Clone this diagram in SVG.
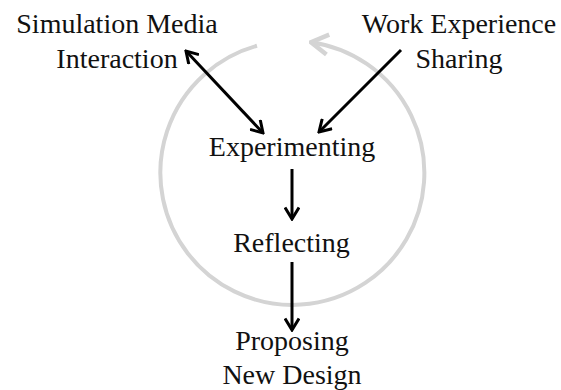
<svg xmlns="http://www.w3.org/2000/svg" width="561" height="390" viewBox="0 0 561 390">
<style>
text{font-family:"Liberation Serif","Times New Roman",serif;font-size:28px;fill:#111;text-anchor:middle}
.ln{stroke:#000;stroke-width:3;fill:none}
.cyc{stroke:#d4d4d4;stroke-width:4;fill:none}
</style>
<defs>
<marker id="ah" viewBox="0 0 16 16" refX="14" refY="8" markerWidth="16" markerHeight="16" markerUnits="userSpaceOnUse" orient="auto-start-reverse">
<path d="M2.5,1 L14,8 L2.5,15" fill="none" stroke="#000" stroke-width="3"/>
</marker>
<marker id="gh" viewBox="0 0 22 26" refX="20" refY="13" markerWidth="22" markerHeight="26" markerUnits="userSpaceOnUse" orient="auto">
<path d="M3,3 L20,13 L3,23" fill="none" stroke="#d4d4d4" stroke-width="4.5"/>
</marker>
</defs>
<g id="cycle">
<path class="cyc" d="M257,45.7 A132,132 0 1 0 311,42.2" marker-end="url(#gh)"/>
</g>
<g id="connectors">
<line class="ln" x1="186" y1="51" x2="263" y2="133" marker-start="url(#ah)" marker-end="url(#ah)"/>
<line class="ln" x1="401" y1="50" x2="319" y2="132" marker-end="url(#ah)"/>
<line class="ln" x1="292" y1="169" x2="292" y2="219" marker-end="url(#ah)"/>
<line class="ln" x1="292" y1="262" x2="292" y2="330" marker-end="url(#ah)"/>
</g>
<g id="node-simulation">
<text x="117" y="33">Simulation Media</text>
<text x="117" y="68">Interaction</text>
</g>
<g id="node-work">
<text x="459" y="33">Work Experience</text>
<text x="459" y="68">Sharing</text>
</g>
<g id="node-experimenting">
<text x="292" y="156">Experimenting</text>
</g>
<g id="node-reflecting">
<text x="291.5" y="252">Reflecting</text>
</g>
<g id="node-proposing">
<text x="292" y="350">Proposing</text>
<text x="292" y="384">New Design</text>
</g>
</svg>
